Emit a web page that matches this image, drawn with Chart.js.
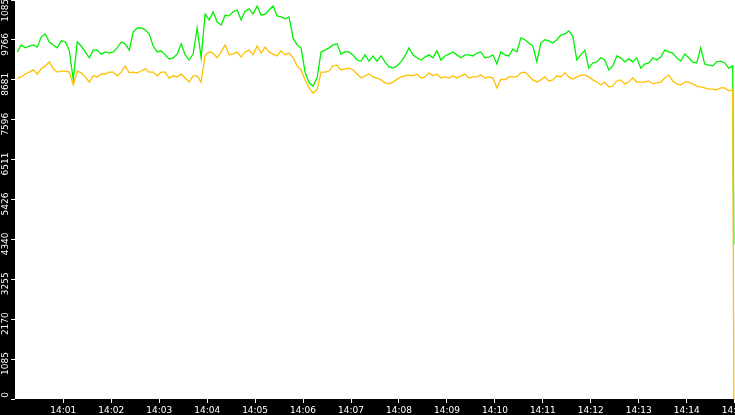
<!DOCTYPE html>
<html>
<head>
<meta charset="utf-8">
<script src="https://cdn.jsdelivr.net/npm/chart.js@4.4.0/dist/chart.umd.min.js"></script>
<style>
    html, body { margin: 0; padding: 0; background: #000; }
    #chart { display: block; }
</style>
</head>
<body>
<canvas id="chart" width="735" height="415"></canvas>
<script>
// Giá trị, mỗi điểm cách nhau 5 giây (bắt đầu 14:00:02.5)
const sampleStart = 2.5;
const sampleStep = 5;
const endTime = 899; // điểm cuối cùng (rơi xuống)

const greenValues = [
    9440, 9630, 9550, 9600, 9630, 9570, 9850, 9930, 9710, 9630, 9550, 9740, 9710, 9490, 8680,
    9710, 9600, 9440, 9280, 9490, 9490, 9380, 9440, 9410, 9440, 9550, 9710, 9660, 9490, 9980,
    10090, 10090, 10040, 9930, 9600, 9440, 9470, 9360, 9250, 9280, 9380, 9660, 9360, 9220, 9380,
    10090, 9280, 10470, 10310, 10530, 10250, 10170, 10440, 10420, 10530, 10580, 10310, 10550, 10610, 10470,
    10690, 10440, 10470, 10580, 10690, 10420, 10390, 10340, 10390, 9820, 9630, 9550, 8890, 8600, 8510,
    8730, 9440, 9490, 9550, 9630, 9660, 9380, 9440, 9440, 9360, 9220, 9190, 9360, 9190, 9330,
    9190, 9330, 9170, 9030, 9000, 9060, 9170, 9330, 9550, 9360, 9280, 9220, 9300, 9360, 9280,
    9470, 9220, 9330, 9380, 9440, 9360, 9280, 9360, 9360, 9330, 9410, 9440, 9280, 9300, 9360,
    9110, 9440, 9360, 9330, 9520, 9440, 9820, 9770, 9680, 9600, 9170, 9680, 9770, 9740, 9680,
    9770, 9900, 9930, 10010, 9870, 9220, 9360, 9490, 9000, 9140, 9170, 9280, 9220, 8950, 9060,
    9330, 9280, 9170, 9250, 9170, 9280, 9000, 9110, 9140, 9280, 9220, 9300, 9490, 9440, 9410,
    9280, 9190, 9380, 9280, 9170, 9140, 9550, 9110, 9080, 9060, 9170, 9190, 9140, 9000, 9060,
    4200
];

const orangeValues = [
    8730, 8760, 8840, 8890, 8950, 8840, 8980, 9060, 9170, 8980, 8890, 8920, 8920, 8890, 8540,
    8920, 8870, 8760, 8620, 8790, 8760, 8840, 8840, 8890, 8890, 8790, 8890, 9060, 8870, 8890,
    8870, 8920, 8980, 8890, 8890, 8790, 8890, 8890, 8730, 8790, 8760, 8840, 8730, 8620, 8790,
    8790, 8620, 9360, 9440, 9410, 9280, 9440, 9630, 9360, 9380, 9440, 9300, 9440, 9490, 9360,
    9600, 9410, 9570, 9440, 9380, 9330, 9470, 9360, 9410, 9280, 9060, 8950, 8680, 8460, 8320,
    8410, 8890, 8890, 8920, 9060, 9080, 8950, 8980, 9000, 8950, 8840, 8730, 8790, 8840, 8760,
    8730, 8680, 8600, 8570, 8620, 8700, 8760, 8790, 8810, 8790, 8840, 8730, 8760, 8870, 8790,
    8840, 8730, 8760, 8730, 8790, 8730, 8790, 8840, 8730, 8760, 8760, 8810, 8730, 8760, 8730,
    8460, 8700, 8680, 8760, 8760, 8760, 8870, 8890, 8790, 8680, 8620, 8680, 8760, 8650, 8680,
    8790, 8760, 8870, 8760, 8700, 8760, 8810, 8810, 8760, 8680, 8620, 8540, 8620, 8490, 8510,
    8650, 8680, 8570, 8620, 8730, 8620, 8620, 8620, 8650, 8570, 8600, 8620, 8730, 8810, 8650,
    8570, 8540, 8620, 8620, 8570, 8510, 8490, 8460, 8430, 8430, 8410, 8460, 8460, 8380, 8410,
    0
];

// Nhãn trục
const yTickValues = [0, 1085, 2170, 3255, 4340, 5426, 6511, 7596, 8681, 9766, 10852];
const xTickLabels = ['14:01', '14:02', '14:03', '14:04', '14:05', '14:06', '14:07', '14:08',
    '14:09', '14:10', '14:11', '14:12', '14:13', '14:14', '14:15'];

// Thời gian (giây sau 14:00) cho từng điểm
function timeAt(i, count) {
    return i === count - 1 ? endTime : sampleStart + i * sampleStep;
}

function toPoints(values) {
    return values.map((v, i) => ({ x: timeAt(i, values.length), y: v }));
}

// Bỏ khoảng đệm tự động để nhãn cuối bị cắt như hình gốc
function fixAxis(scale, size) {
    if (scale.isHorizontal()) {
        scale.height = size;
    } else {
        scale.width = size;
    }
    scale.paddingLeft = 0;
    scale.paddingRight = 0;
    scale.paddingTop = 0;
    scale.paddingBottom = 0;
}

// Nền trắng cho vùng vẽ, phần còn lại màu đen
const plotBackground = {
    id: 'plotBackground',
    beforeDraw(chart) {
        const { ctx, chartArea } = chart;
        ctx.save();
        ctx.fillStyle = '#000';
        ctx.fillRect(0, 0, chart.width, chart.height);
        ctx.fillStyle = '#fff';
        ctx.fillRect(chartArea.left, chartArea.top, chartArea.right - chartArea.left, chartArea.bottom - chartArea.top);
        ctx.restore();
    }
};

const ctx = document.getElementById('chart').getContext('2d');
const chart = new Chart(ctx, {
    type: 'line',
    data: {
        datasets: [
            {
                label: 'orange',
                data: toPoints(orangeValues),
                borderColor: '#ffc000',
                borderWidth: 1.3,
                pointRadius: 0,
                tension: 0
            },
            {
                label: 'green',
                data: toPoints(greenValues),
                borderColor: '#00f000',
                borderWidth: 1.3,
                pointRadius: 0,
                tension: 0
            }
        ]
    },
    options: {
        responsive: false,
        animation: false,
        devicePixelRatio: 1,
        layout: { padding: 0, autoPadding: false },
        plugins: { legend: { display: false }, tooltip: { enabled: false } },
        scales: {
            x: {
                type: 'linear',
                min: -0.4,
                max: 900.4,
                afterBuildTicks: (scale) => {
                    scale.ticks = xTickLabels.map((_, i) => ({ value: (i + 1) * 60 }));
                },
                afterFit: (scale) => fixAxis(scale, 16),
                border: { display: false },
                grid: { drawOnChartArea: false, color: '#fff', tickLength: 4 },
                ticks: {
                    color: '#fff',
                    font: { family: 'DejaVu Sans', size: 9 },
                    padding: 2,
                    maxRotation: 0,
                    autoSkip: false,
                    callback: (value, index) => xTickLabels[index]
                }
            },
            y: {
                min: 0,
                max: 10852,
                afterBuildTicks: (scale) => {
                    scale.ticks = yTickValues.map(v => ({ value: v }));
                },
                afterFit: (scale) => fixAxis(scale, 15),
                border: { display: false },
                grid: { drawOnChartArea: false, color: '#fff', tickLength: 4 },
                ticks: {
                    color: '#fff',
                    font: { family: 'DejaVu Sans', size: 9 },
                    padding: 5,
                    minRotation: 90,
                    maxRotation: 90,
                    labelOffset: -7,
                    callback: (value) => String(value)
                }
            }
        }
    },
    plugins: [plotBackground]
});
</script>
</body>
</html>
